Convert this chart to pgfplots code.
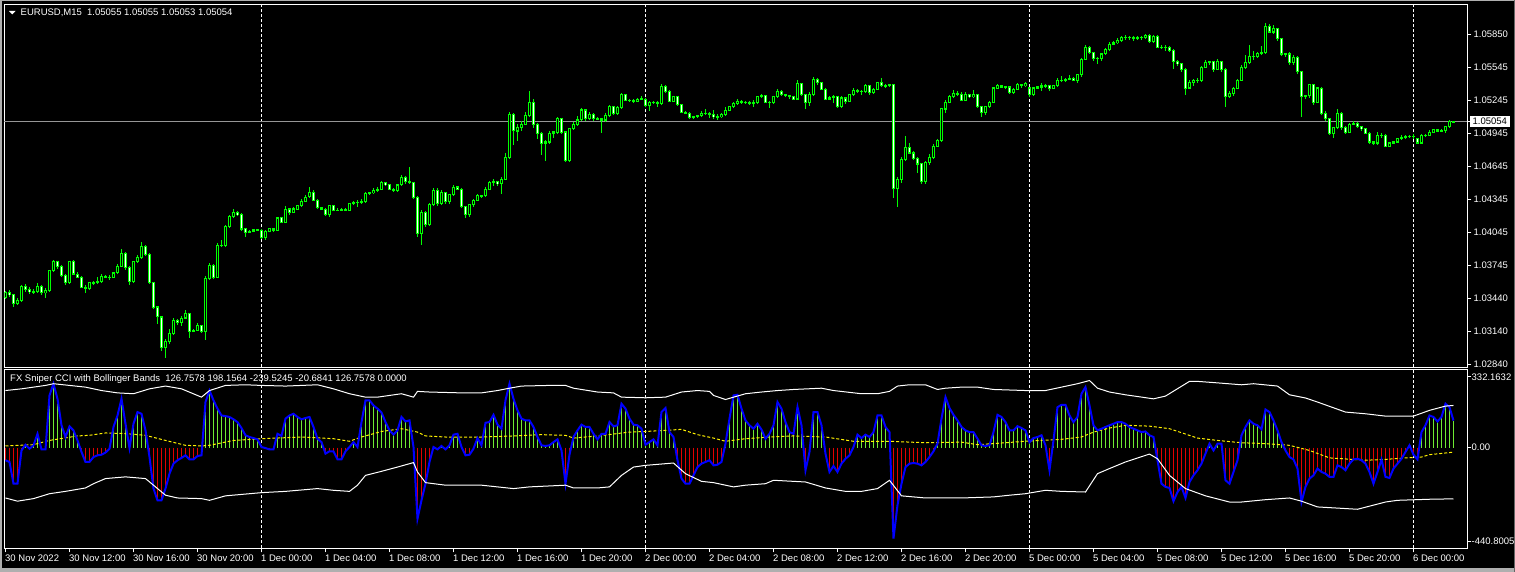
\documentclass[border=0pt]{standalone}
\usepackage{fontspec}
\setmainfont{Liberation Sans}
\usepackage{pgfplots}
\pgfplotsset{compat=1.18}
\usepackage{pgfplotstable}
\definecolor{candle}{RGB}{0,255,0}
\definecolor{hgreen}{RGB}{110,235,50}
\definecolor{hred}{RGB}{225,0,0}
\definecolor{cciblue}{RGB}{0,0,255}
\definecolor{bidgray}{RGB}{150,150,150}
\definecolor{framegray}{RGB}{175,175,175}
\newcommand{\lbl}{\fontsize{9.5}{11}\selectfont}

\pgfplotstableread{
i o h l c
-64 1.0346 1.0352 1.0344 1.0350
-63 1.0350 1.0352 1.0346 1.0348
-62 1.0348 1.0349 1.0337 1.0340
-61 1.0340 1.0345 1.0339 1.0343
-60 1.0343 1.0357 1.0342 1.0356
-59 1.0356 1.0358 1.0351 1.0353
-58 1.0353 1.0355 1.0349 1.0351
-57 1.0351 1.0353 1.0349 1.0351
-56 1.0351 1.0359 1.0350 1.0356
-55 1.0356 1.0357 1.0348 1.0350
-54 1.0350 1.0354 1.0345 1.0352
-53 1.0352 1.0371 1.0351 1.0370
-52 1.0370 1.0380 1.0369 1.0378
-51 1.0378 1.0379 1.0372 1.0374
-50 1.0374 1.0375 1.0364 1.0366
-49 1.0366 1.0367 1.0357 1.0359
-48 1.0359 1.0379 1.0358 1.0378
-47 1.0378 1.0380 1.0366 1.0367
-46 1.0367 1.0369 1.0363 1.0364
-45 1.0364 1.0365 1.0354 1.0355
-44 1.0355 1.0357 1.0350 1.0354
-43 1.0354 1.0360 1.0352 1.0359
-42 1.0359 1.0361 1.0357 1.0359
-41 1.0359 1.0364 1.0358 1.0360
-40 1.0360 1.0367 1.0359 1.0365
-39 1.0365 1.0366 1.0363 1.0364
-38 1.0364 1.0366 1.0362 1.0364
-37 1.0364 1.0369 1.0363 1.0368
-36 1.0368 1.0376 1.0367 1.0374
-35 1.0374 1.0390 1.0373 1.0386
-34 1.0386 1.0387 1.0371 1.0373
-33 1.0373 1.0374 1.0357 1.0360
-32 1.0360 1.0379 1.0359 1.0378
-31 1.0378 1.0384 1.0377 1.0382
-30 1.0382 1.0396 1.0381 1.0392
-29 1.0392 1.0393 1.0383 1.0385
-28 1.0385 1.0386 1.0358 1.0359
-27 1.0359 1.0360 1.0335 1.0337
-26 1.0337 1.0338 1.0322 1.0328
-25 1.0328 1.0329 1.0297 1.0300
-24 1.0300 1.0308 1.0291 1.0306
-23 1.0306 1.0317 1.0303 1.0313
-22 1.0313 1.0327 1.0312 1.0325
-21 1.0325 1.0326 1.0321 1.0323
-20 1.0323 1.0329 1.0320 1.0327
-19 1.0327 1.0334 1.0326 1.0331
-18 1.0331 1.0332 1.0309 1.0315
-17 1.0315 1.0317 1.0314 1.0316
-16 1.0316 1.0322 1.0315 1.0320
-15 1.0320 1.0321 1.0313 1.0315
-14 1.0315 1.0365 1.0307 1.0363
-13 1.0363 1.0377 1.0362 1.0375
-12 1.0375 1.0376 1.0362 1.0364
-11 1.0364 1.0395 1.0363 1.0393
-10 1.0393 1.0398 1.0392 1.0393
-9 1.0393 1.0412 1.0392 1.0410
-8 1.0410 1.0421 1.0409 1.0419
-7 1.0419 1.0426 1.0418 1.0423
-6 1.0423 1.0424 1.0420 1.0421
-5 1.0421 1.0422 1.0406 1.0408
-4 1.0408 1.0409 1.0401 1.0405
-3 1.0405 1.0407 1.0404 1.0406
-2 1.0406 1.0408 1.0405 1.0407
-1 1.0407 1.0408 1.0406 1.0407
0 1.0407 1.0408 1.0399 1.0400
1 1.0400 1.0407 1.0398 1.0406
2 1.0406 1.0409 1.0405 1.0408
3 1.0408 1.0409 1.0405 1.0407
4 1.0407 1.0419 1.0406 1.0418
5 1.0418 1.0419 1.0413 1.0414
6 1.0414 1.0429 1.0413 1.0426
7 1.0426 1.0427 1.0421 1.0423
8 1.0423 1.0428 1.0422 1.0426
9 1.0426 1.0430 1.0425 1.0429
10 1.0429 1.0435 1.0428 1.0433
11 1.0433 1.0439 1.0432 1.0437
12 1.0437 1.0446 1.0436 1.0441
13 1.0441 1.0443 1.0433 1.0434
14 1.0434 1.0435 1.0426 1.0427
15 1.0427 1.0428 1.0425 1.0426
16 1.0426 1.0427 1.0420 1.0421
17 1.0421 1.0430 1.0419 1.0429
18 1.0429 1.0430 1.0424 1.0425
19 1.0425 1.0427 1.0424 1.0425
20 1.0425 1.0427 1.0424 1.0426
21 1.0426 1.0427 1.0424 1.0425
22 1.0425 1.0432 1.0424 1.0431
23 1.0431 1.0433 1.0430 1.0432
24 1.0432 1.0434 1.0428 1.0432
25 1.0432 1.0435 1.0431 1.0433
26 1.0433 1.0442 1.0432 1.0440
27 1.0440 1.0442 1.0439 1.0441
28 1.0441 1.0445 1.0440 1.0443
29 1.0443 1.0446 1.0442 1.0444
30 1.0444 1.0452 1.0443 1.0450
31 1.0450 1.0451 1.0447 1.0448
32 1.0448 1.0449 1.0443 1.0444
33 1.0444 1.0445 1.0442 1.0443
34 1.0443 1.0449 1.0442 1.0448
35 1.0448 1.0457 1.0447 1.0455
36 1.0455 1.0456 1.0449 1.0451
37 1.0451 1.0464 1.0449 1.0450
38 1.0450 1.0451 1.0435 1.0437
39 1.0437 1.0438 1.0401 1.0404
40 1.0404 1.0425 1.0393 1.0423
41 1.0423 1.0424 1.0410 1.0412
42 1.0412 1.0432 1.0411 1.0430
43 1.0430 1.0445 1.0429 1.0443
44 1.0443 1.0445 1.0429 1.0431
45 1.0431 1.0443 1.0430 1.0441
46 1.0441 1.0442 1.0431 1.0433
47 1.0433 1.0440 1.0431 1.0439
48 1.0439 1.0448 1.0438 1.0446
49 1.0446 1.0447 1.0443 1.0444
50 1.0444 1.0445 1.0427 1.0428
51 1.0428 1.0429 1.0418 1.0421
52 1.0421 1.0431 1.0419 1.0430
53 1.0430 1.0435 1.0428 1.0434
54 1.0434 1.0440 1.0433 1.0438
55 1.0438 1.0439 1.0436 1.0438
56 1.0438 1.0446 1.0437 1.0444
57 1.0444 1.0452 1.0443 1.0450
58 1.0450 1.0453 1.0447 1.0451
59 1.0451 1.0452 1.0447 1.0449
60 1.0449 1.0455 1.0440 1.0453
61 1.0453 1.0477 1.0452 1.0473
62 1.0473 1.0514 1.0472 1.0512
63 1.0512 1.0513 1.0484 1.0497
64 1.0497 1.0503 1.0488 1.0500
65 1.0500 1.0506 1.0497 1.0503
66 1.0503 1.0514 1.0502 1.0511
67 1.0511 1.0533 1.0510 1.0523
68 1.0523 1.0526 1.0500 1.0503
69 1.0503 1.0504 1.0490 1.0495
70 1.0495 1.0496 1.0475 1.0486
71 1.0486 1.0489 1.0470 1.0487
72 1.0487 1.0497 1.0485 1.0495
73 1.0495 1.0497 1.0491 1.0496
74 1.0496 1.0510 1.0494 1.0508
75 1.0508 1.0509 1.0494 1.0496
76 1.0496 1.0497 1.0469 1.0470
77 1.0470 1.0500 1.0469 1.0499
78 1.0499 1.0505 1.0498 1.0503
79 1.0503 1.0511 1.0502 1.0507
80 1.0507 1.0518 1.0506 1.0516
81 1.0516 1.0517 1.0506 1.0508
82 1.0508 1.0514 1.0507 1.0512
83 1.0512 1.0513 1.0506 1.0508
84 1.0508 1.0510 1.0507 1.0508
85 1.0508 1.0509 1.0495 1.0507
86 1.0507 1.0513 1.0505 1.0511
87 1.0511 1.0521 1.0510 1.0519
88 1.0519 1.0520 1.0512 1.0513
89 1.0513 1.0520 1.0512 1.0518
90 1.0518 1.0532 1.0517 1.0530
91 1.0530 1.0531 1.0524 1.0525
92 1.0525 1.0526 1.0523 1.0525
93 1.0525 1.0526 1.0522 1.0524
94 1.0524 1.0527 1.0523 1.0526
95 1.0526 1.0529 1.0525 1.0526
96 1.0526 1.0527 1.0519 1.0520
97 1.0520 1.0524 1.0515 1.0523
98 1.0523 1.0524 1.0522 1.0523
99 1.0523 1.0524 1.0519 1.0522
100 1.0522 1.0540 1.0521 1.0537
101 1.0537 1.0539 1.0532 1.0533
102 1.0533 1.0534 1.0523 1.0524
103 1.0524 1.0529 1.0523 1.0528
104 1.0528 1.0529 1.0520 1.0521
105 1.0521 1.0522 1.0513 1.0514
106 1.0514 1.0515 1.0512 1.0513
107 1.0513 1.0514 1.0508 1.0509
108 1.0509 1.0511 1.0508 1.0510
109 1.0510 1.0512 1.0509 1.0511
110 1.0511 1.0515 1.0510 1.0513
111 1.0513 1.0517 1.0512 1.0513
112 1.0513 1.0514 1.0509 1.0512
113 1.0512 1.0516 1.0508 1.0510
114 1.0510 1.0512 1.0507 1.0510
115 1.0510 1.0513 1.0509 1.0512
116 1.0512 1.0519 1.0511 1.0516
117 1.0516 1.0520 1.0515 1.0519
118 1.0519 1.0523 1.0518 1.0522
119 1.0522 1.0526 1.0521 1.0524
120 1.0524 1.0525 1.0522 1.0523
121 1.0523 1.0524 1.0522 1.0523
122 1.0523 1.0524 1.0521 1.0522
123 1.0522 1.0525 1.0519 1.0523
124 1.0523 1.0529 1.0522 1.0528
125 1.0528 1.0531 1.0527 1.0529
126 1.0529 1.0530 1.0522 1.0523
127 1.0523 1.0524 1.0518 1.0523
128 1.0523 1.0529 1.0522 1.0528
129 1.0528 1.0535 1.0527 1.0533
130 1.0533 1.0534 1.0529 1.0530
131 1.0530 1.0531 1.0528 1.0529
132 1.0529 1.0530 1.0526 1.0528
133 1.0528 1.0529 1.0525 1.0526
134 1.0526 1.0543 1.0525 1.0540
135 1.0540 1.0541 1.0529 1.0530
136 1.0530 1.0531 1.0517 1.0523
137 1.0523 1.0532 1.0520 1.0530
138 1.0530 1.0546 1.0529 1.0544
139 1.0544 1.0545 1.0539 1.0541
140 1.0541 1.0542 1.0534 1.0535
141 1.0535 1.0536 1.0525 1.0526
142 1.0526 1.0529 1.0525 1.0527
143 1.0527 1.0530 1.0522 1.0528
144 1.0528 1.0529 1.0518 1.0519
145 1.0519 1.0529 1.0518 1.0527
146 1.0527 1.0528 1.0522 1.0524
147 1.0524 1.0531 1.0523 1.0530
148 1.0530 1.0536 1.0529 1.0534
149 1.0534 1.0535 1.0532 1.0533
150 1.0533 1.0534 1.0530 1.0533
151 1.0533 1.0540 1.0532 1.0538
152 1.0538 1.0539 1.0530 1.0532
153 1.0532 1.0536 1.0531 1.0535
154 1.0535 1.0542 1.0534 1.0541
155 1.0541 1.0545 1.0537 1.0538
156 1.0538 1.0540 1.0536 1.0538
157 1.0538 1.0540 1.0537 1.0539
158 1.0539 1.0540 1.0436 1.0445
159 1.0445 1.0455 1.0428 1.0453
160 1.0453 1.0473 1.0450 1.0471
161 1.0471 1.0492 1.0470 1.0482
162 1.0482 1.0486 1.0476 1.0477
163 1.0477 1.0479 1.0471 1.0472
164 1.0472 1.0473 1.0459 1.0467
165 1.0467 1.0468 1.0449 1.0451
166 1.0451 1.0470 1.0449 1.0468
167 1.0468 1.0476 1.0466 1.0473
168 1.0473 1.0485 1.0472 1.0483
169 1.0483 1.0490 1.0482 1.0488
170 1.0488 1.0518 1.0487 1.0517
171 1.0517 1.0525 1.0513 1.0523
172 1.0523 1.0530 1.0522 1.0528
173 1.0528 1.0534 1.0527 1.0531
174 1.0531 1.0533 1.0529 1.0530
175 1.0530 1.0532 1.0524 1.0525
176 1.0525 1.0532 1.0524 1.0530
177 1.0530 1.0531 1.0527 1.0528
178 1.0528 1.0534 1.0527 1.0530
179 1.0530 1.0531 1.0518 1.0519
180 1.0519 1.0520 1.0510 1.0514
181 1.0514 1.0520 1.0512 1.0519
182 1.0519 1.0524 1.0518 1.0523
183 1.0523 1.0537 1.0522 1.0536
184 1.0536 1.0540 1.0535 1.0538
185 1.0538 1.0539 1.0536 1.0537
186 1.0537 1.0538 1.0535 1.0537
187 1.0537 1.0538 1.0531 1.0532
188 1.0532 1.0536 1.0531 1.0535
189 1.0535 1.0541 1.0534 1.0539
190 1.0539 1.0540 1.0536 1.0538
191 1.0538 1.0542 1.0537 1.0540
192 1.0536 1.0537 1.0528 1.0530
193 1.0530 1.0537 1.0529 1.0536
194 1.0536 1.0538 1.0535 1.0537
195 1.0537 1.0541 1.0533 1.0538
196 1.0538 1.0540 1.0536 1.0538
197 1.0538 1.0539 1.0533 1.0536
198 1.0536 1.0539 1.0535 1.0538
199 1.0538 1.0545 1.0537 1.0543
200 1.0543 1.0547 1.0542 1.0543
201 1.0543 1.0545 1.0542 1.0544
202 1.0544 1.0548 1.0543 1.0545
203 1.0545 1.0546 1.0542 1.0543
204 1.0543 1.0549 1.0541 1.0548
205 1.0548 1.0563 1.0546 1.0562
206 1.0562 1.0575 1.0561 1.0573
207 1.0573 1.0574 1.0567 1.0568
208 1.0568 1.0569 1.0561 1.0563
209 1.0563 1.0564 1.0558 1.0563
210 1.0563 1.0568 1.0561 1.0567
211 1.0567 1.0572 1.0566 1.0571
212 1.0571 1.0578 1.0570 1.0576
213 1.0576 1.0579 1.0575 1.0577
214 1.0577 1.0581 1.0576 1.0579
215 1.0579 1.0583 1.0578 1.0582
216 1.0582 1.0584 1.0580 1.0582
217 1.0582 1.0583 1.0580 1.0582
218 1.0582 1.0583 1.0579 1.0581
219 1.0581 1.0583 1.0580 1.0582
220 1.0582 1.0583 1.0580 1.0582
221 1.0582 1.0585 1.0581 1.0584
222 1.0584 1.0585 1.0577 1.0578
223 1.0578 1.0584 1.0577 1.0583
224 1.0583 1.0584 1.0572 1.0573
225 1.0573 1.0575 1.0571 1.0573
226 1.0573 1.0575 1.0570 1.0573
227 1.0573 1.0574 1.0569 1.0570
228 1.0570 1.0571 1.0553 1.0560
229 1.0560 1.0561 1.0556 1.0558
230 1.0558 1.0559 1.0551 1.0553
231 1.0553 1.0554 1.0530 1.0536
232 1.0536 1.0543 1.0535 1.0541
233 1.0541 1.0544 1.0538 1.0543
234 1.0543 1.0545 1.0541 1.0543
235 1.0543 1.0556 1.0542 1.0555
236 1.0555 1.0562 1.0554 1.0559
237 1.0559 1.0561 1.0557 1.0560
238 1.0560 1.0561 1.0551 1.0553
239 1.0553 1.0562 1.0552 1.0560
240 1.0560 1.0561 1.0551 1.0553
241 1.0553 1.0554 1.0519 1.0528
242 1.0528 1.0533 1.0527 1.0531
243 1.0531 1.0537 1.0529 1.0536
244 1.0536 1.0544 1.0535 1.0543
245 1.0543 1.0557 1.0542 1.0555
246 1.0555 1.0566 1.0553 1.0559
247 1.0559 1.0575 1.0558 1.0565
248 1.0565 1.0570 1.0561 1.0565
249 1.0565 1.0569 1.0563 1.0567
250 1.0567 1.0574 1.0566 1.0568
251 1.0568 1.0595 1.0567 1.0592
252 1.0592 1.0594 1.0586 1.0587
253 1.0587 1.0593 1.0585 1.0590
254 1.0590 1.0591 1.0579 1.0581
255 1.0581 1.0582 1.0565 1.0567
256 1.0567 1.0568 1.0564 1.0567
257 1.0567 1.0569 1.0557 1.0559
258 1.0559 1.0566 1.0557 1.0564
259 1.0564 1.0565 1.0549 1.0551
260 1.0551 1.0552 1.0510 1.0528
261 1.0528 1.0530 1.0526 1.0529
262 1.0529 1.0540 1.0527 1.0539
263 1.0539 1.0540 1.0521 1.0523
264 1.0523 1.0537 1.0522 1.0536
265 1.0536 1.0537 1.0512 1.0513
266 1.0513 1.0515 1.0506 1.0508
267 1.0508 1.0509 1.0493 1.0495
268 1.0495 1.0501 1.0491 1.0500
269 1.0500 1.0517 1.0499 1.0513
270 1.0513 1.0514 1.0498 1.0500
271 1.0500 1.0502 1.0494 1.0496
272 1.0496 1.0504 1.0495 1.0503
273 1.0503 1.0506 1.0502 1.0504
274 1.0504 1.0505 1.0500 1.0501
275 1.0501 1.0502 1.0497 1.0499
276 1.0499 1.0500 1.0494 1.0495
277 1.0495 1.0496 1.0485 1.0487
278 1.0487 1.0488 1.0484 1.0486
279 1.0486 1.0496 1.0484 1.0493
280 1.0493 1.0495 1.0491 1.0493
281 1.0493 1.0494 1.0482 1.0483
282 1.0483 1.0487 1.0482 1.0486
283 1.0486 1.0488 1.0485 1.0487
284 1.0487 1.0491 1.0486 1.0490
285 1.0490 1.0493 1.0489 1.0491
286 1.0491 1.0493 1.0490 1.0492
287 1.0492 1.0493 1.0491 1.0492
288 1.0492 1.0494 1.0490 1.0492
289 1.0490 1.0491 1.0485 1.0486
290 1.0486 1.0494 1.0485 1.0493
291 1.0493 1.0494 1.0492 1.0493
292 1.0493 1.0498 1.0492 1.0496
293 1.0496 1.0499 1.0495 1.0498
294 1.0498 1.0499 1.0496 1.0497
295 1.0497 1.0499 1.0496 1.0497
296 1.0497 1.0502 1.0495 1.0501
297 1.0501 1.0507 1.0500 1.05055
298 1.05055 1.05055 1.05053 1.05054
}\candles

\pgfplotstableread{
i v
-64 -59
-63 -67
-62 -169
-61 -169
-60 -13
-59 14
-58 -5
-57 11
-56 65
-55 -8
-54 -8
-53 245
-52 300
-51 229
-50 105
-49 50
-48 100
-47 81
-46 34
-45 -20
-44 -67
-43 -67
-42 -44
-41 -36
-40 -33
-39 -23
-38 -5
-37 97
-36 151
-35 229
-34 112
-33 -2
-32 112
-31 167
-30 159
-29 81
-28 -44
-27 -192
-26 -247
-25 -247
-24 -192
-23 -122
-22 -75
-21 -59
-20 -48
-19 -36
-18 -55
-17 -55
-16 -39
-15 -36
-14 214
-13 268
-12 222
-11 183
-10 151
-9 148
-8 144
-7 133
-6 120
-5 92
-4 58
-3 50
-2 45
-1 39
0 3
1 -2
2 -8
3 -8
4 65
5 55
6 136
7 151
8 159
9 144
10 133
11 139
12 144
13 97
14 42
15 26
16 -28
17 -17
18 -17
19 -55
20 -55
21 -17
22 3
23 26
24 3
25 120
26 222
27 222
28 198
29 183
30 165
31 120
32 81
33 62
34 81
35 144
36 123
37 128
38 3
39 -333
40 -247
41 -169
42 -67
43 3
44 -8
45 8
46 -8
47 11
48 61
49 65
50 3
51 -36
52 -33
53 -5
54 45
55 11
56 117
57 120
58 154
59 108
60 89
61 222
62 300
63 229
64 175
65 136
66 128
67 128
68 97
69 50
70 11
71 8
72 11
73 26
74 39
75 -13
76 -169
77 -33
78 50
79 81
80 108
81 97
82 97
83 65
84 39
85 65
86 65
87 120
88 100
89 105
90 206
91 183
92 136
93 108
94 105
95 89
96 14
97 26
98 39
99 11
100 167
101 186
102 73
103 50
104 -59
105 -145
106 -169
107 -169
108 -130
109 -91
110 -75
111 -67
112 -59
113 -83
114 -80
115 -67
116 19
117 136
118 245
119 248
120 183
121 128
122 105
123 89
124 112
125 85
126 42
127 65
128 105
129 214
130 183
131 120
132 73
133 65
134 190
135 105
136 -106
137 -20
138 167
139 167
140 105
141 -28
142 -114
143 -86
144 -114
145 -75
146 -52
147 -36
148 3
149 61
150 45
151 61
152 50
153 73
154 151
155 151
156 97
157 73
158 -426
159 -270
160 -169
161 -91
162 -75
163 -72
164 -75
165 -83
166 -67
167 -44
168 -17
169 19
170 136
171 237
172 186
173 154
174 128
175 97
176 81
177 73
178 73
179 42
180 11
181 8
182 11
183 73
184 154
185 144
186 120
187 81
188 81
189 101
190 92
191 81
192 26
193 45
194 50
195 58
196 11
197 -106
198 34
199 190
200 201
201 201
202 151
203 120
204 144
205 253
206 284
207 198
208 105
209 81
210 89
211 97
212 105
213 112
214 120
215 120
216 112
217 97
218 89
219 81
220 73
221 76
222 58
223 50
224 -59
225 -169
226 -184
227 -189
228 -251
229 -208
230 -184
231 -236
232 -161
233 -130
234 -106
235 -75
236 -28
237 19
238 -13
239 19
240 19
241 -153
242 -169
243 -114
244 -59
245 58
246 97
247 128
248 112
249 105
250 86
251 179
252 167
253 128
254 81
255 26
256 -13
257 -44
258 -55
259 -98
260 -255
261 -184
262 -145
263 -130
264 -98
265 -114
266 -122
267 -137
268 -137
269 -83
270 -91
271 -106
272 -75
273 -55
274 -52
275 -59
276 -75
277 -114
278 -169
279 -114
280 -56
281 -137
282 -142
283 -98
284 -75
285 -52
286 -20
287 11
288 -33
289 -55
290 73
291 105
292 151
293 144
294 123
295 144
296 206
297 190
298 127
}\cci

\pgfplotstableread{
i v
-64 268
-60 276
-54 292
-52 300
-48 292
-44 284
-40 268
-36 257
-32 253
-28 276
-24 289
-20 276
-15 237
-13 268
-9 292
-4 295
0 292
6 289
10 292
14 295
18 276
22 253
26 237
29 237
32 245
35 253
38 237
39 264
42 261
50 257
55 257
59 268
62 279
65 289
72 292
76 292
78 279
84 261
88 257
90 237
96 234
101 237
105 261
109 268
112 264
113 245
116 226
121 253
125 261
129 268
133 273
140 279
143 268
150 253
154 253
157 264
159 289
162 295
166 295
169 273
171 279
175 284
179 284
183 273
191 268
196 268
200 284
204 300
207 315
209 279
212 261
216 248
219 240
223 229
226 242
232 311
234 311
239 304
245 295
248 300
254 289
257 248
261 233
264 214
271 167
276 159
281 148
288 148
292 175
296 195
298 198
}\upperband

\pgfplotstableread{
i v
-64 -236
-61 -251
-57 -239
-53 -216
-49 -205
-44 -189
-42 -169
-39 -145
-34 -137
-29 -145
-27 -176
-24 -223
-21 -236
-15 -239
-13 -247
-9 -226
0 -211
6 -205
14 -192
18 -200
22 -205
24 -176
26 -130
30 -111
34 -91
38 -70
39 -114
41 -164
46 -176
55 -176
63 -192
67 -184
76 -176
78 -189
84 -189
87 -184
90 -130
93 -91
96 -83
103 -72
106 -122
110 -158
113 -164
118 -184
121 -176
126 -169
128 -153
136 -161
141 -189
146 -205
150 -205
154 -192
157 -153
160 -226
166 -236
175 -236
183 -231
187 -223
191 -216
196 -200
200 -205
206 -208
209 -122
212 -98
216 -67
222 -30
224 -52
227 -130
231 -192
236 -226
242 -255
245 -255
251 -244
257 -236
260 -251
264 -278
274 -289
281 -255
284 -247
292 -242
298 -240
}\lowerband

\pgfplotstableread{
i v
-64 8
-57 14
-53 34
-46 55
-43 58
-39 69
-34 66
-29 58
-24 34
-19 11
-15 8
-13 11
-7 34
0 42
10 50
18 42
22 30
25 50
30 76
35 89
39 73
41 55
46 50
55 50
63 55
70 61
76 58
78 45
84 55
92 73
96 76
101 81
105 86
109 61
113 45
116 30
121 42
127 50
133 55
141 50
148 30
157 30
166 23
175 26
179 14
183 19
191 30
200 39
205 50
208 73
212 92
216 105
222 101
227 89
234 45
239 34
245 23
251 19
257 11
262 -13
267 -48
276 -59
281 -55
286 -48
290 -44
292 -33
296 -25
298 -21
}\midband

\pgfplotsset{mt4/.style={
  scale only axis, width=1463pt, anchor=south west,
  xmin=-64.25, xmax=301.5,
  axis line style={white, line width=1pt},
  tick align=outside, major tick length=4pt,
  tick style={white, line width=1pt},
  ticklabel style={font=\lbl, text=white},
  ytick pos=right, yticklabel pos=right,
  yticklabel style={anchor=west, inner sep=0pt, xshift=2pt},
  major grid style={white, line width=1pt, dash pattern=on 3pt off 2pt},
}}

\begin{document}
\begin{tikzpicture}
\fill[black] (0,0) rectangle (1515pt,572pt);

\begin{axis}[mt4,
  at={(4.5pt,204.5pt)}, height=363pt,
  ymin=1.0282, ymax=1.06119,
  xtick={0,96,192,288}, xticklabels={}, xtick style={draw=none}, xmajorgrids=true,
  ytick={1.0285,1.0315,1.0345,1.0375,1.0405,1.0435,1.0465,1.0495,1.0525,1.0555,1.0585},
  yticklabels={1.02840,1.03140,1.03440,1.03745,1.04045,1.04345,1.04645,1.04945,1.05245,1.05545,1.05850},
  extra y ticks={1.05054}, extra y tick labels={1.05054},
  extra y tick style={grid=major, major grid style={bidgray, line width=1pt, solid},
    yticklabel style={fill=white, text=black, inner xsep=3pt, inner ysep=2pt, xshift=-4pt}},
]
% wicks
\addplot[draw=none, forget plot, error bars/.cd, y dir=both, y explicit, error mark=none,
  error bar style={draw=candle, line width=1pt}]
  table[x=i, y expr={(\thisrow{h}+\thisrow{l})/2}, y error expr={(\thisrow{h}-\thisrow{l})/2}] {\candles};
% body outlines
\addplot[draw=none, forget plot, error bars/.cd, y dir=both, y explicit, error mark=none,
  error bar style={draw=candle, line width=3pt}]
  table[x=i, y expr={(\thisrow{o}+\thisrow{c})/2}, y error expr={abs(\thisrow{o}-\thisrow{c})/2+0.00005}] {\candles};
% bear bodies (white)
\addplot[draw=none, forget plot, error bars/.cd, y dir=both, y explicit, error mark=none,
  error bar style={draw=white, line width=1pt}]
  table[x=i, y expr={(\thisrow{o}+\thisrow{c})/2}, y error expr={max(0,(\thisrow{o}-\thisrow{c})/2-0.00005)}] {\candles};
% bull bodies (black)
\addplot[draw=none, forget plot, error bars/.cd, y dir=both, y explicit, error mark=none,
  error bar style={draw=black, line width=1pt}]
  table[x=i, y expr={(\thisrow{o}+\thisrow{c})/2}, y error expr={max(0,(\thisrow{c}-\thisrow{o})/2-0.00005)}] {\candles};
\end{axis}

\begin{axis}[mt4,
  at={(4.5pt,23.5pt)}, height=179pt,
  ymin=-473, ymax=366.7,
  xtick={-64,-48,...,288}, xtick pos=left,
  xticklabels={30 Nov 2022,30 Nov 12:00,30 Nov 16:00,30 Nov 20:00,1 Dec 00:00,1 Dec 04:00,1 Dec 08:00,1 Dec 12:00,1 Dec 16:00,1 Dec 20:00,2 Dec 00:00,2 Dec 04:00,2 Dec 08:00,2 Dec 12:00,2 Dec 16:00,2 Dec 20:00,5 Dec 00:00,5 Dec 04:00,5 Dec 08:00,5 Dec 12:00,5 Dec 16:00,5 Dec 20:00,6 Dec 00:00},
  xticklabel style={anchor=north west, inner sep=0pt, xshift=-0.5pt, yshift=-2pt},
  extra x ticks={0,96,192,288}, extra x tick labels={},
  extra x tick style={grid=major},
  ytick={-440.8005,0,332.1632},
  yticklabels={-440.8005,0.00,332.1632},
  yticklabel style={xshift=-2pt},
]
\addplot[ycomb, draw=hgreen, line width=1pt, forget plot, restrict y to domain=0:2000] table[x=i, y=v] {\cci};
\addplot[ycomb, draw=hred, line width=1pt, forget plot, restrict y to domain=-2000:0] table[x=i, y=v] {\cci};
\addplot[yellow, line width=1pt, dash pattern=on 3pt off 2pt, forget plot] table[x=i, y=v] {\midband};
\addplot[cciblue, line width=2pt, forget plot] table[x=i, y=v] {\cci};
\addplot[white, line width=1pt, forget plot] table[x=i, y=v] {\upperband};
\addplot[white, line width=1pt, forget plot] table[x=i, y=v] {\lowerband};
\end{axis}

\fill[white] (9pt,561pt) -- (15.5pt,561pt) -- (12.25pt,557.5pt) -- cycle;
\node[anchor=west, inner sep=0pt, text=white, font=\lbl] at (20.5pt,559.3pt)
  {EURUSD,M15\ \ 1.05055 1.05055 1.05053 1.05054};
\node[anchor=west, inner sep=0pt, text=white, font=\lbl] at (10pt,193.3pt)
  {FX Sniper CCI with Bollinger Bands\ \ 126.7578 198.1564 -239.5245 -20.6841 126.7578 0.0000};

\fill[framegray] (0,570.5pt) rectangle (1515pt,572pt);
\fill[framegray] (0,0) rectangle (1515pt,3.5pt);
\fill[framegray] (0,0) rectangle (1.5pt,572pt);
\fill[black!60] (1514.2pt,0) rectangle (1515pt,572pt);

\pgfresetboundingbox
\path[use as bounding box] (0,0) rectangle (1515pt,572pt);
\end{tikzpicture}
\end{document}
